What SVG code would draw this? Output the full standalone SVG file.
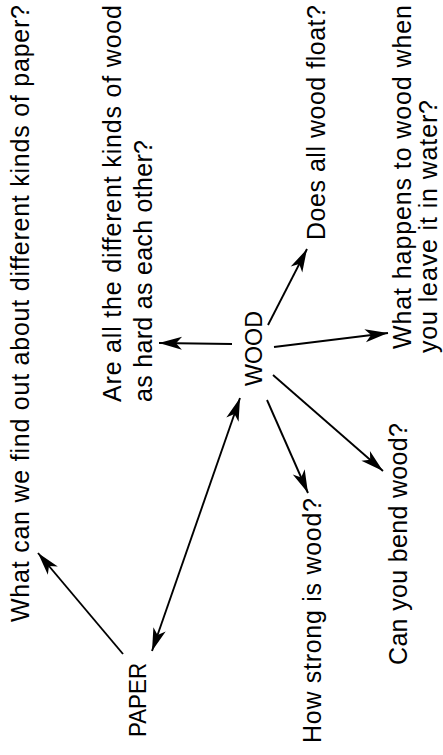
<svg xmlns="http://www.w3.org/2000/svg" width="443" height="755" viewBox="0 0 443 755">
  <style>
    .bg { fill: #ffffff; }
    .t { font-family: "Liberation Sans", Arial, Helvetica, sans-serif; font-size: 25px; fill: #000000; }
    .hub { font-size: 24px; }
    .edge { stroke: #000000; stroke-width: 1.9; fill: none; marker-end: url(#head); }
    .both { marker-start: url(#head); }
  </style>
  <defs>
    <marker id="head" markerUnits="userSpaceOnUse" viewBox="-25 -8 27 16" refX="0" refY="0" markerWidth="27" markerHeight="16" orient="auto-start-reverse">
      <path d="M0,0 L-23,-6.5 L-17,0 L-23,6.5 Z" fill="#000000"/>
    </marker>
  </defs>
  <rect class="bg" x="0" y="0" width="443" height="755"/>

  <g id="connectors">
    <line class="edge" x1="123" y1="654" x2="38" y2="553"/>
    <line class="edge both" x1="240" y1="398" x2="152" y2="651"/>
    <line class="edge" x1="232" y1="344" x2="159" y2="343"/>
    <line class="edge" x1="268" y1="325" x2="307" y2="249"/>
    <line class="edge" x1="274" y1="347" x2="388" y2="333"/>
    <line class="edge" x1="267" y1="400" x2="308" y2="493"/>
    <line class="edge" x1="273" y1="375" x2="383" y2="471"/>
  </g>

  <g id="wood">
    <text class="t hub" transform="translate(262,386) rotate(-90)" textLength="75" lengthAdjust="spacingAndGlyphs">WOOD</text>
  </g>
  <g id="paper">
    <text class="t hub" transform="translate(146,737) rotate(-90)" textLength="74" lengthAdjust="spacingAndGlyphs">PAPER</text>
  </g>
  <g id="q-paper">
    <text class="t" transform="translate(29,622) rotate(-90)" textLength="617">What can we find out about different kinds of paper?</text>
  </g>
  <g id="q-hard">
    <text class="t" transform="translate(121,402) rotate(-90)" textLength="397">Are all the different kinds of wood</text>
    <text class="t" transform="translate(152,402) rotate(-90)" textLength="262">as hard as each other?</text>
  </g>
  <g id="q-float">
    <text class="t" transform="translate(325,240) rotate(-90)" textLength="235">Does all wood float?</text>
  </g>
  <g id="q-water">
    <text class="t" transform="translate(411,349) rotate(-90)" textLength="344">What happens to wood when</text>
    <text class="t" transform="translate(437,353) rotate(-90)" textLength="253">you leave it in water?</text>
  </g>
  <g id="q-strong">
    <text class="t" transform="translate(321,743) rotate(-90)" textLength="245">How strong is wood?</text>
  </g>
  <g id="q-bend">
    <text class="t" transform="translate(407,665) rotate(-90)" textLength="242">Can you bend wood?</text>
  </g>
</svg>
